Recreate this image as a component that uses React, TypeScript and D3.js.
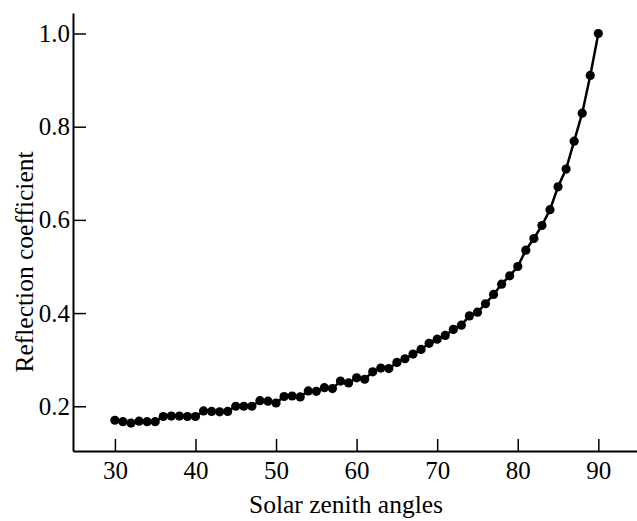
import React, { useEffect, useRef } from "react";
import * as d3 from "d3";

// solar zenith angle (deg) vs reflection coefficient
const angles = d3.range(30, 91);
const reflection = [
  0.170, 0.167, 0.164, 0.168, 0.167, 0.167, 0.178, 0.179, 0.179, 0.178,
  0.178, 0.190, 0.189, 0.188, 0.189, 0.200, 0.200, 0.200, 0.212, 0.211,
  0.207, 0.221, 0.222, 0.220, 0.233, 0.232, 0.240, 0.238, 0.254, 0.250,
  0.261, 0.258, 0.274, 0.282, 0.281, 0.294, 0.302, 0.312, 0.322, 0.335,
  0.344, 0.352, 0.365, 0.374, 0.394, 0.402, 0.420, 0.440, 0.462, 0.480,
  0.500, 0.535, 0.560, 0.588, 0.622, 0.671, 0.709, 0.769, 0.829, 0.910,
  1.000,
];
const xTicks = [30, 40, 50, 60, 70, 80, 90];
const yTicks = [0.2, 0.4, 0.6, 0.8, 1.0];

const width = 637;
const height = 521;
const font = '"Liberation Serif", "Times New Roman", serif';

const App = () => {
  const ref = useRef<SVGSVGElement>(null);

  useEffect(() => {
    if (!ref.current) return;
    const svg = d3.select(ref.current);
    svg.selectAll("*").remove();

    const x = d3.scaleLinear().domain([24.8, 94.8]).range([73, 637]);
    const y = d3.scaleLinear().domain([0.104, 1.044]).range([451, 13]);

    const data = angles.map((a, i) => ({ a, r: reflection[i] }));

    // axes (ticks point inward, no box)
    const xAxis = svg
      .append("g")
      .attr("transform", `translate(0,${y.range()[0]})`)
      .call(
        d3
          .axisBottom(x)
          .tickValues(xTicks)
          .tickFormat(d3.format("d"))
          .tickSizeInner(-12)
          .tickSizeOuter(0)
          .tickPadding(10)
      );

    const yAxis = svg
      .append("g")
      .attr("transform", `translate(${x.range()[0]},0)`)
      .call(
        d3
          .axisLeft(y)
          .tickValues(yTicks)
          .tickFormat(d3.format(".1f"))
          .tickSizeInner(-13)
          .tickSizeOuter(0)
          .tickPadding(3)
      );

    [xAxis, yAxis].forEach((g) => {
      g.select(".domain").attr("stroke", "#000").attr("stroke-width", 2);
      g.selectAll(".tick line").attr("stroke", "#000").attr("stroke-width", 1.5);
      g.selectAll(".tick text")
        .attr("fill", "#000")
        .style("font-family", font)
        .style("font-size", "25px");
    });

    // curve + dots
    const line = d3
      .line<{ a: number; r: number }>()
      .x((d) => x(d.a))
      .y((d) => y(d.r));

    svg
      .append("path")
      .datum(data)
      .attr("fill", "none")
      .attr("stroke", "#000")
      .attr("stroke-width", 2.5)
      .attr("d", line);

    svg
      .append("g")
      .selectAll("circle")
      .data(data)
      .join("circle")
      .attr("cx", (d) => x(d.a))
      .attr("cy", (d) => y(d.r))
      .attr("r", 4.6)
      .attr("fill", "#000");

    // axis titles
    svg
      .append("text")
      .attr("x", 346)
      .attr("y", 513)
      .attr("text-anchor", "middle")
      .style("font-family", font)
      .style("font-size", "25.5px")
      .text("Solar zenith angles");

    svg
      .append("text")
      .attr("transform", "translate(33,262) rotate(-90)")
      .attr("text-anchor", "middle")
      .style("font-family", font)
      .style("font-size", "25.5px")
      .text("Reflection coefficient");
  }, []);

  return (
    <div style={{ position: "absolute", left: 0, top: 0, width, height, background: "#fff" }}>
      <svg ref={ref} width={width} height={height} />
    </div>
  );
};

export default App;
